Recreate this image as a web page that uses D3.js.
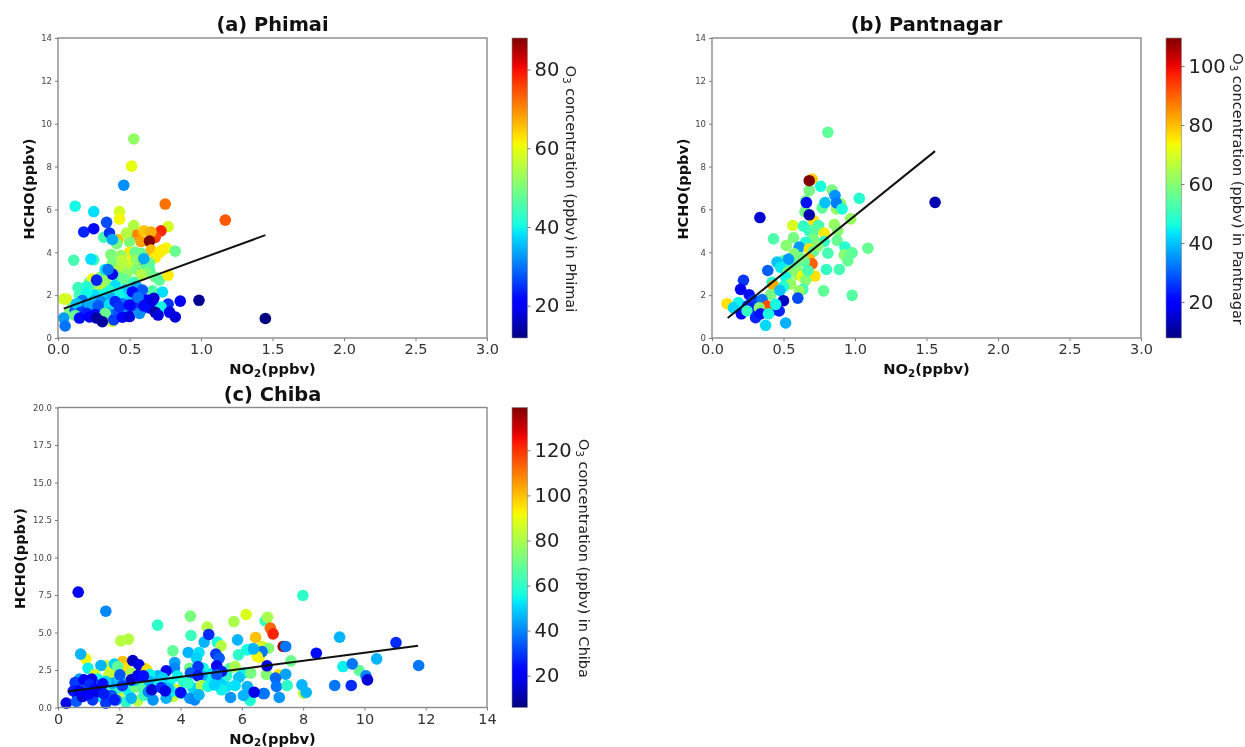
<!DOCTYPE html>
<html>
<head>
<meta charset="utf-8">
<script src="https://d3js.org/d3.v7.min.js"></script>
<style>
    body { margin: 0; background: white; }
    text { font-family: "DejaVu Sans", sans-serif; }
    svg { filter: blur(0.4px); }
</style>
</head>
<body>
<div id="chart"></div>
<script>
// each point is [NO2, HCHO, O3], drawn in this order
var phimai = [
    [0.29,1.87,75],[0.57,3.6,74],[0.38,0.78,58],[0.31,2.7,42],[0.25,3.65,44],
    [0.53,9.29,52],[0.515,8.02,60],[0.75,6.25,72],[1.17,5.5,74],[0.43,5.9,58],[0.43,5.55,61],
    [0.53,5.25,55],[0.77,5.2,58],[0.72,5.0,78],[0.68,4.7,76],[0.55,4.8,70],[0.42,4.6,65],[0.58,4.5,68],
    [0.6,5.0,65],[0.65,4.95,67],[0.64,4.52,88],[0.32,4.7,45],[0.41,4.4,50],[0.5,4.5,50],[0.48,4.9,55],[0.5,4.0,62],
    [0.34,5.4,27],[0.18,4.95,24],[0.25,5.1,22],[0.36,4.9,25],[0.38,4.6,34],[0.46,7.13,32],[0.12,6.15,40],[0.25,5.9,38],
    [0.65,4.1,66],[0.71,4.0,62],[0.68,3.75,62],[0.76,4.2,60],[0.82,4.05,48],[0.73,4.1,62],[0.58,3.95,48],[0.54,4.0,48],
    [0.37,3.9,50],[0.44,3.85,52],[0.38,3.5,50],[0.51,3.5,58],[0.64,3.5,48],[0.6,3.2,46],[0.64,3.2,46],
    [0.45,3.6,56],[0.55,3.65,52],[0.42,3.15,54],[0.5,3.2,56],[0.62,3.05,50],[0.68,2.85,48],[0.35,2.95,46],[0.3,2.85,50],[0.27,2.45,50],
    [0.11,3.63,45],[0.23,3.68,38],[0.6,3.7,34],[0.33,3.2,38],[0.44,3.3,55],[0.48,3.0,52],[0.55,3.2,50],[0.58,2.95,55],
    [0.4,2.9,45],[0.46,2.75,48],[0.53,2.6,44],[0.33,2.6,52],[0.3,2.3,55],[0.22,2.6,48],[0.24,2.75,60],[0.71,2.7,47],[0.77,2.93,62],
    [0.27,2.7,24],[0.38,2.98,20],[0.35,3.2,30],[0.14,2.35,44],[0.2,2.4,42],[0.28,2.0,42],[0.04,1.82,58],[0.06,1.82,58],[0.21,1.77,52],[0.18,1.5,60],
    [0.25,2.0,38],[0.15,2.0,44],[0.2,2.1,40],[0.4,2.45,38],[0.36,2.2,42],[0.47,2.25,36],[0.55,2.4,34],[0.66,2.2,46],[0.73,2.15,38],
    [0.42,2.1,40],[0.33,2.05,40],[0.5,2.0,38],[0.25,1.75,36],[0.35,1.8,36],[0.1,1.4,46],[0.08,1.2,50],
    [0.59,2.24,28],[0.52,2.15,22],[0.62,1.77,20],[0.67,1.85,17],[0.77,1.58,25],[0.855,1.72,20],[0.986,1.76,13],
    [0.38,1.85,34],[0.43,1.9,40],[0.33,1.4,36],[0.25,1.3,30],[0.19,1.4,26],[0.12,1.3,28],[0.3,1.7,32],[0.45,1.6,30],[0.41,1.3,28],
    [0.17,1.75,30],[0.13,1.6,36],[0.22,1.55,34],[0.36,1.55,38],[0.48,1.2,32],[0.55,1.7,28],[0.72,1.45,40],
    [0.28,1.5,28],[0.34,1.15,30],[0.4,1.7,24],[0.52,1.5,24],[0.58,1.3,26],[0.56,1.9,30],[0.16,1.2,26],[0.2,1.15,24],[0.26,1.1,22],
    [0.33,1.15,48],[0.12,1.05,48],[0.04,0.93,33],[0.05,0.56,30],[0.15,0.93,22],[0.22,0.98,20],[0.27,0.93,14],[0.31,0.76,14],
    [0.39,0.85,26],[0.45,0.97,20],[0.43,1.45,25],[0.5,1.54,20],[0.5,1.0,18],[0.57,1.15,32],[0.64,1.4,22],[0.68,1.2,14],
    [0.6,1.5,22],[0.66,1.75,18],[0.7,1.07,18],[0.78,1.2,20],[0.82,0.98,18],[1.45,0.91,12]
];
var pantnagar = [
    [0.7,7.42,78],[0.81,9.6,55],[0.655,6.4,57],[0.68,6.88,58],[0.84,6.9,58],[0.76,7.08,47],[0.68,7.34,110],
    [0.77,6.07,55],[0.87,6.02,62],[0.9,6.26,60],[0.65,5.9,58],[0.79,6.32,40],[0.86,6.65,35],[0.87,6.3,33],[0.91,6.02,47],
    [1.03,6.52,48],[0.66,6.32,22],[0.97,5.56,62],[0.71,5.48,76],[0.565,5.25,70],[0.745,5.25,52],[0.855,5.3,62],[0.64,5.22,50],
    [0.68,5.0,50],[0.88,5.0,60],[0.72,5.05,54],[0.785,4.9,75],[0.68,5.75,12],[1.56,6.33,12],[0.335,5.62,15],
    [0.43,4.63,53],[0.57,4.68,58],[0.71,4.63,58],[0.875,4.55,56],[0.52,4.32,60],[0.655,4.47,48],[0.785,4.5,50],
    [0.93,4.24,48],[1.09,4.19,56],[0.925,3.88,60],[0.98,3.98,55],[0.81,3.96,52],[0.61,4.24,36],[0.575,3.93,60],
    [0.68,4.16,76],[0.71,4.04,55],[0.68,3.7,80],[0.7,3.46,90],[0.95,3.6,56],[0.645,3.57,55],[0.585,3.46,56],
    [0.62,3.75,58],[0.55,3.3,52],[0.5,3.6,54],[0.74,4.3,60],[0.6,2.95,62],
    [0.535,3.68,36],[0.455,3.54,40],[0.39,3.15,30],[0.48,3.3,44],[0.6,3.1,60],[0.8,3.2,50],[0.89,3.2,52],[0.53,3.07,60],
    [0.63,2.89,72],[0.72,2.89,76],[0.655,2.69,60],[0.67,3.15,52],[0.515,2.84,46],[0.42,2.6,48],[0.55,2.52,62],
    [0.43,2.44,82],[0.41,2.02,58],[0.5,2.4,48],[0.635,2.27,52],[0.61,2.19,62],[0.78,2.2,55],[0.98,1.99,54],[0.475,2.22,40],
    [0.6,1.86,28],[0.22,2.69,26],[0.2,2.27,18],[0.26,2.02,22],[0.105,1.6,76],[0.185,1.65,45],[0.29,1.75,26],[0.35,1.79,32],
    [0.25,1.5,24],[0.31,1.3,22],[0.42,1.3,30],[0.5,1.74,14],[0.15,1.41,42],[0.385,1.49,92],[0.205,1.13,20],[0.245,1.26,50],[0.33,1.41,60],[0.47,1.26,24],
    [0.305,0.95,24],[0.34,1.13,22],[0.445,1.57,46],[0.395,1.13,46],[0.375,0.59,42],[0.515,0.7,38]
];
var chiba = [
    [7.35,4.07,135],[6.57,3.36,92],[6.67,4.07,88],[2.11,3.07,100],[2.2,2.62,95],[2.82,2.62,95],[0.91,3.24,92],[8.02,0.96,84],
    [7.2,2.18,95],[1.56,2.78,84],[1.73,2.4,88],[2.05,4.44,82],[2.3,4.56,82],[6.76,5.78,62],[6.84,6.02,80],[6.93,5.29,112],[7.02,4.91,122],[6.45,4.67,100],
    [7.99,7.47,60],[9.19,4.69,46],[11.03,4.33,28],[7.43,4.07,38],[8.43,3.62,24],[6.87,3.95,74],[6.33,3.89,52],[6.66,3.73,38],[6.5,3.4,92],
    [10.4,3.24,46],[7.6,3.11,70],[11.77,2.8,38],[9.83,2.47,68],[9.3,2.73,54],[9.6,2.91,38],[6.8,2.2,74],[6.82,2.78,16],
    [7.43,2.22,44],[7.1,1.96,36],[10.05,2.11,40],[10.1,1.84,16],[7.13,1.4,38],[7.48,1.47,60],[7.96,1.51,46],[9.03,1.47,38],[9.57,1.47,28],
    [8.1,1.0,46],[6.7,0.93,36],[7.22,0.67,42],[6.27,0.47,58],[6.73,0.93,38],
    [0.66,7.69,20],[1.56,6.42,40],[0.74,3.56,46],[0.98,2.62,54],[3.25,5.49,60],[4.32,6.09,72],[4.34,4.8,62],[4.87,5.36,82],[4.77,4.36,46],[4.92,4.87,28],
    [5.2,4.36,56],[5.32,4.11,82],[5.74,5.73,80],[6.14,6.2,88],[5.86,4.51,46],[3.75,3.78,68],[4.25,3.67,46],[4.6,3.67,52],[4.52,3.29,50],
    [5.89,3.51,60],[6.16,3.84,56],[6.38,3.91,46],[5.15,3.56,30],[5.26,3.29,34],[3.81,3.0,44],[3.8,2.62,40],
    [1.4,2.8,46],[1.84,2.9,50],[1.95,2.73,68],[2.44,3.13,14],[2.64,2.84,18],[1.2,2.2,86],[1.65,2.1,84],[2.4,2.3,80],[2.9,2.5,96],
    [4.3,2.62,70],[4.74,2.62,56],[5.6,2.6,66],[5.78,2.73,80],[6.05,2.29,54],[6.29,2.29,72],[5.05,2.3,52],[5.5,2.1,60],[4.9,1.9,54],
    [0.7,1.9,44],[1.3,1.9,56],[1.8,1.2,56],[2.3,1.1,54],[2.7,1.7,58],[3.2,1.9,52],[3.65,1.7,56],[4.4,1.3,50],[5.5,1.4,52],[5.9,2.0,48],[5.3,1.6,50],[4.7,2.1,46],
    [3.53,2.44,20],[4.57,2.73,30],[4.32,2.29,34],[4.57,2.11,26],[5.18,2.78,20],[5.34,2.4,26],[5.18,2.18,34],
    [3.26,2.11,46],[3.42,1.96,50],[3.0,2.2,54],[3.9,2.1,54],[4.1,1.7,60],[4.25,1.62,60],[4.68,1.47,82],[3.86,1.18,86],[2.53,1.36,72],[2.77,1.36,66],[2.99,1.73,46],
    [1.98,0.73,84],[2.22,0.36,60],[2.6,0.44,82],[2.8,0.8,62],[3.75,0.73,84],[3.7,1.07,54],[3.3,1.5,56],[3.6,1.3,48],[2.2,1.6,54],[1.95,1.3,60],[1.7,1.0,62],
    [1.4,0.73,56],[1.1,1.1,48],[0.9,1.3,50],[1.25,1.5,40],[1.78,1.62,44],[1.56,1.73,50],[0.63,1.51,42],[2.0,1.85,48],[2.5,1.8,50],
    [0.56,1.67,30],[0.85,1.84,20],[1.1,1.89,20],[1.02,1.51,28],[1.46,1.58,24],[2.02,2.18,34],[2.39,1.84,14],[2.6,2.13,20],[2.79,2.11,24],
    [0.5,1.1,26],[0.9,0.9,30],[1.2,1.25,24],[1.75,0.8,34],[2.1,1.45,30],[0.65,0.7,24],[1.9,0.5,40],[2.95,1.05,40],
    [0.27,0.29,18],[0.6,0.4,34],[0.8,0.73,16],[0.7,1.1,22],[1.13,0.51,30],[1.0,0.9,20],[1.56,0.29,30],[1.84,0.51,26],[1.3,1.05,18],[1.5,0.9,26],
    [2.39,0.62,46],[3.1,0.51,42],[3.53,0.62,46],[4.03,0.96,46],[4.3,0.62,42],[4.46,0.51,40],[4.6,0.84,46],[4.9,1.4,56],[5.34,1.18,54],[5.1,1.5,50],[5.78,1.47,52],
    [5.63,0.67,42],[6.05,0.8,46],[6.18,1.4,46],[3.06,1.18,16],[3.37,1.33,28],[3.5,1.1,18],[4.0,1.0,24],[6.4,1.02,18]
];

var xTicksSmall = [0, 0.5, 1, 1.5, 2, 2.5, 3];
var xTicksChiba = [0, 2, 4, 6, 8, 10, 12, 14];
var yTicksSmall = [0, 2, 4, 6, 8, 10, 12, 14];
var yTicksChiba = [0, 2.5, 5, 7.5, 10, 12.5, 15, 17.5, 20];
var cbTicksPhimai = [20, 40, 60, 80];
var cbTicksPantnagar = [20, 40, 60, 80, 100];
var cbTicksChiba = [20, 40, 60, 80, 100, 120];

// jet colormap, same channel breakpoints as matplotlib
var jetR = d3.scaleLinear().domain([0, 0.35, 0.66, 0.89, 1]).range([0, 0, 1, 1, 0.5]);
var jetG = d3.scaleLinear().domain([0, 0.125, 0.375, 0.64, 0.91, 1]).range([0, 0, 1, 1, 0, 0]);
var jetB = d3.scaleLinear().domain([0, 0.11, 0.34, 0.65, 1]).range([0.5, 1, 1, 0, 0]);
function jet(t) {
    return d3.rgb(jetR(t) * 255, jetG(t) * 255, jetB(t) * 255).formatHex();
}

var svg = d3.select("#chart").append("svg")
    .attr("width", 1245)
    .attr("height", 747)
    .style("display", "block");
var defs = svg.append("defs");

// NO2 / O3 labels need the little subscript
function addSub(sel, before, sub, after) {
    sel.append("tspan").text(before);
    sel.append("tspan").attr("font-size", "70%").attr("dy", "0.25em").text(sub);
    sel.append("tspan").attr("dy", "-0.175em").text(after);
}

function drawPanel(prop) {
    var x = d3.scaleLinear().domain(prop.xDomain).range([prop.left, prop.left + 429]);
    var y = d3.scaleLinear().domain(prop.yDomain).range([prop.top + 300, prop.top]);
    var o3 = d3.scaleLinear().domain(prop.o3Domain).range([0, 1]).clamp(true);
    var g = svg.append("g");

    g.selectAll("circle")
        .data(prop.data)
        .enter()
        .append("circle")
        .attr("cx", function(d) { return x(d[0]); })
        .attr("cy", function(d) { return y(d[1]); })
        .attr("r", 5.8)
        .attr("fill", function(d) { return jet(o3(d[2])); });

    g.append("line")
        .attr("x1", x(prop.fit[0])).attr("y1", y(prop.fit[1]))
        .attr("x2", x(prop.fit[2])).attr("y2", y(prop.fit[3]))
        .attr("stroke", "#111")
        .attr("stroke-width", 2);

    var xAxis = g.append("g")
        .attr("transform", "translate(0," + (prop.top + 300) + ")")
        .call(d3.axisBottom(x).tickValues(prop.xTicks).tickSize(3).tickPadding(3).tickFormat(prop.xFormat));
    xAxis.selectAll("text").attr("font-size", 14.5).attr("fill", "#333");
    var yAxis = g.append("g")
        .attr("transform", "translate(" + prop.left + ",0)")
        .call(d3.axisLeft(y).tickValues(prop.yTicks).tickSize(3).tickPadding(3).tickFormat(prop.yFormat));
    yAxis.selectAll("text").attr("font-size", 8.5).attr("fill", "#444");
    g.selectAll(".domain").remove();
    g.selectAll(".tick line").attr("stroke", "#555").attr("stroke-width", 0.8);

    g.append("rect")
        .attr("x", prop.left).attr("y", prop.top)
        .attr("width", 429).attr("height", 300)
        .attr("fill", "none")
        .attr("stroke", "#8a8a8a")
        .attr("stroke-width", 1.4);

    g.append("text")
        .attr("x", prop.left + 214.5).attr("y", prop.top - 7)
        .attr("text-anchor", "middle")
        .attr("font-size", 19.4)
        .attr("font-weight", "bold")
        .attr("fill", "#111")
        .text(prop.title);

    var xLab = g.append("text")
        .attr("x", prop.left + 214.5).attr("y", prop.top + 336)
        .attr("text-anchor", "middle")
        .attr("font-size", 14.7)
        .attr("font-weight", "bold")
        .attr("fill", "#111");
    addSub(xLab, "NO", "2", "(ppbv)");

    g.append("text")
        .attr("transform", "translate(" + (prop.left - prop.yLabelGap) + "," + (prop.top + 151) + ") rotate(-90)")
        .attr("text-anchor", "middle")
        .attr("font-size", 14.5)
        .attr("font-weight", "bold")
        .attr("fill", "#111")
        .text("HCHO(ppbv)");

    // colorbar
    var cbX = prop.left + 454;
    var grad = defs.append("linearGradient")
        .attr("id", "grad" + prop.id)
        .attr("x1", "0%").attr("y1", "100%").attr("x2", "0%").attr("y2", "0%");
    grad.selectAll("stop")
        .data(d3.range(0, 1.001, 0.02))
        .enter()
        .append("stop")
        .attr("offset", function(d) { return (d * 100) + "%"; })
        .attr("stop-color", function(d) { return jet(d); });
    g.append("rect")
        .attr("x", cbX).attr("y", prop.top)
        .attr("width", 15.5).attr("height", 300)
        .attr("fill", "url(#grad" + prop.id + ")")
        .attr("stroke", "#888")
        .attr("stroke-width", 0.6);

    var cb = d3.scaleLinear().domain(prop.o3Domain).range([prop.top + 300, prop.top]);
    var cbAxis = g.append("g")
        .attr("transform", "translate(" + (cbX + 15.5) + ",0)")
        .call(d3.axisRight(cb).tickValues(prop.cbTicks).tickSize(3).tickPadding(4).tickFormat(d3.format("d")));
    cbAxis.select(".domain").remove();
    cbAxis.selectAll("text").attr("font-size", 19.5).attr("fill", "#222");
    cbAxis.selectAll(".tick line").attr("stroke", "#555").attr("stroke-width", 0.8);

    var cbLab = g.append("text")
        .attr("transform", "translate(" + prop.cbLabelX + "," + (prop.top + 151) + ") rotate(90)")
        .attr("text-anchor", "middle")
        .attr("font-size", 14.5)
        .attr("fill", "#222");
    addSub(cbLab, "O", "3", " concentration (ppbv) in " + prop.site);
}

drawPanel({
    id: "a", title: "(a) Phimai", site: "Phimai", data: phimai,
    left: 58, top: 38,
    xDomain: [0, 3], yDomain: [0, 14], o3Domain: [11.8, 88],
    xTicks: xTicksSmall, yTicks: yTicksSmall, cbTicks: cbTicksPhimai,
    xFormat: d3.format(".1f"), yFormat: d3.format("d"),
    fit: [0.04, 1.37, 1.45, 4.8], yLabelGap: 24, cbLabelX: 566
});
drawPanel({
    id: "b", title: "(b) Pantnagar", site: "Pantnagar", data: pantnagar,
    left: 712, top: 38,
    xDomain: [0, 3], yDomain: [0, 14], o3Domain: [7.8, 109.5],
    xTicks: xTicksSmall, yTicks: yTicksSmall, cbTicks: cbTicksPantnagar,
    xFormat: d3.format(".1f"), yFormat: d3.format("d"),
    fit: [0.11, 0.93, 1.56, 8.72], yLabelGap: 24, cbLabelX: 1233
});
drawPanel({
    id: "c", title: "(c) Chiba", site: "Chiba", data: chiba,
    left: 58, top: 407.5,
    xDomain: [0, 14], yDomain: [0, 20], o3Domain: [5.9, 139],
    xTicks: xTicksChiba, yTicks: yTicksChiba, cbTicks: cbTicksChiba,
    xFormat: d3.format("d"), yFormat: d3.format(".1f"),
    fit: [0.32, 1.06, 11.75, 4.12], yLabelGap: 33, cbLabelX: 579
});
</script>
</body>
</html>
